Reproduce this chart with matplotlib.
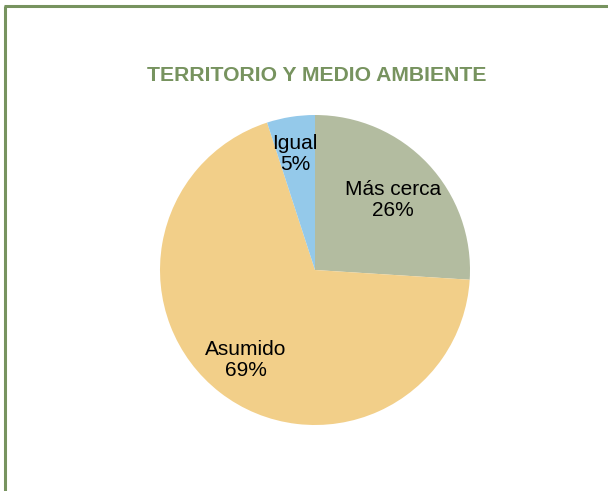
import matplotlib
matplotlib.use('Agg')
import matplotlib.pyplot as plt
from matplotlib.lines import Line2D

plt.rcParams['font.family'] = ['Liberation Sans', 'DejaVu Sans']

# survey answers, territory / environment block
categories = ['Más cerca', 'Asumido', 'Igual']
shares = [26, 69, 5]
slice_colors = ['#B3BCA0', '#F2CF89', '#94C9EA']
title = 'TERRITORIO Y MEDIO AMBIENTE'
frame_color = '#77935F'

W, H = 608, 491
fig = plt.figure(figsize=(W / 100, H / 100), dpi=100)
ax = fig.add_axes([0, 0, 1, 1])

# chart frame (only top and left edges fall inside the image)
ax.add_line(Line2D([5, 5], [-5, H - 6], color=frame_color, lw=2.2, solid_capstyle='butt'))
ax.add_line(Line2D([3.5, W + 5], [H - 6, H - 6], color=frame_color, lw=2.2, solid_capstyle='butt'))

ax.text(317, H - 75, title, ha='center', va='center', fontsize=15.2,
        fontweight='bold', color=frame_color)

wedges, _ = ax.pie(shares, colors=slice_colors, startangle=90, counterclock=False,
                   center=(315, H - 270), radius=155, frame=True,
                   wedgeprops=dict(linewidth=0))
ax.set_xlim(0, W)
ax.set_ylim(0, H)
ax.set_aspect('equal')
ax.axis('off')

label_pos = [(393, 200), (246, 360), (295, 154)]
for name, val, (x, y) in zip(categories, shares, label_pos):
    ax.text(x, H - y, f'{name}\n{val}%', ha='center', va='center',
            fontsize=15, color='black', linespacing=1.12)

fig.savefig('out.png', dpi=100, facecolor='white')
